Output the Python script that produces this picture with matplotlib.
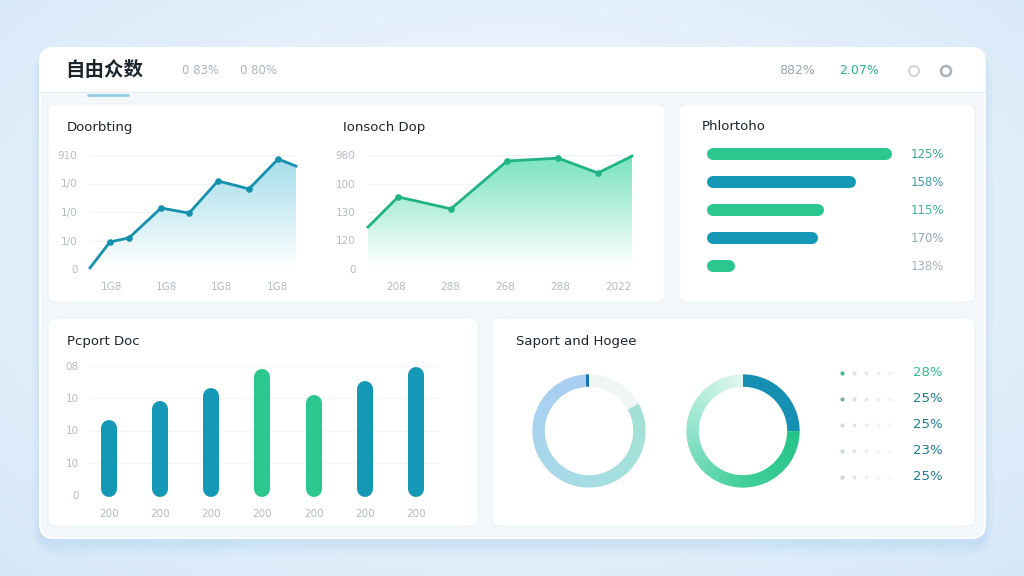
import numpy as np
import matplotlib
matplotlib.use("Agg")
import matplotlib.pyplot as plt
from matplotlib.patches import FancyBboxPatch, Circle
from matplotlib.colors import LinearSegmentedColormap

plt.rcParams['font.family'] = ['DejaVu Sans', 'Noto Sans CJK SC']

W, H = 1024, 576

# ---- data ----
title_main = "自由众数"
header_left = ["0 83%", "0 80%"]
header_right = ["882%", "2.07%"]

line1_title = "Doorbting"
line1_x = [0, 0.97, 1.89, 3.45, 4.81, 6.21, 7.72, 9.13, 10]
line1_y = [4, 95, 109, 214, 196, 309, 281, 386, 361]
line1_yticks = [0, 100, 200, 300, 400]
line1_ylabels = ["0", "1/0", "1/0", "1/0", "910"]
line1_xticks = [1.02, 3.69, 6.36, 9.08]
line1_xlabels = ["1G8", "1G8", "1G8", "1G8"]

line2_title = "Ionsoch Dop"
line2_x = [0, 1.14, 3.14, 5.27, 7.2, 8.71, 10]
line2_y = [147, 253, 211, 379, 389, 337, 396]
line2_yticks = [0, 100, 200, 300, 400]
line2_ylabels = ["0", "120", "130", "100", "980"]
line2_xticks = [1.06, 3.1, 5.19, 7.27, 9.47]
line2_xlabels = ["208", "288", "268", "288", "2022"]

hbar_title = "Phlortoho"
hbar_values = [92, 74, 58, 55, 14]
hbar_labels = ["125%", "158%", "115%", "170%", "138%"]

vbar_title = "Pcport Doc"
vbar_values = [23.3, 29.1, 33.2, 39.1, 31.0, 35.3, 39.7]
vbar_xlabels = ["200"] * 7
vbar_yticks = [0, 10, 20, 30, 40]
vbar_ylabels = ["0", "10", "10", "10", "08"]

donut_title = "Saport and Hogee"
donut1_values = [1, 82, 17]
donut2_values = [25, 75]
legend_labels = ["28%", "25%", "25%", "23%", "25%"]

# ---- colours ----
TEAL = "#1598b5"
GREEN = "#2cc78e"
TICK = "#b4bcc4"
DARK = "#1c242c"

fig = plt.figure(figsize=(W / 100, H / 100), dpi=100)


def px_axes(x0, y0, x1, y1, z=2):
    ax = fig.add_axes([x0 / W, 1 - y1 / H, (x1 - x0) / W, (y1 - y0) / H])
    ax.set_zorder(z)
    return ax


# background
bg = px_axes(0, 0, W, H, z=0)
bg.set_xlim(0, W)
bg.set_ylim(H, 0)
bg.axis("off")
yy, xx = np.mgrid[0:H:4, 0:W:4]
d = np.sqrt(((xx - 512) / 700) ** 2 + ((yy - 250) / 420) ** 2)
bgmap = LinearSegmentedColormap.from_list("bg", ["#f2f7fc", "#e6f1fb", "#d6e8f8"])
bg.imshow(d, cmap=bgmap, extent=[0, W, H, 0], aspect="auto", zorder=0)

# shadow of main panel
for i, a in enumerate([0.05, 0.05, 0.06, 0.07, 0.08]):
    s = 14 - i * 3
    bg.add_patch(FancyBboxPatch((40 - s * 0.6, 54 - s * 0.2), 945 + s * 1.2, 490 + s,
                                boxstyle="round,pad=0,rounding_size=%d" % (14 + s),
                                fc="#9cc6ee", ec="none", alpha=a, zorder=1))
# main panel
bg.add_patch(FancyBboxPatch((40, 48), 945, 490, boxstyle="round,pad=0,rounding_size=14",
                            fc="#f3f7fa", ec="#ffffff", lw=1.5, zorder=2))
# header
bg.add_patch(FancyBboxPatch((40, 48), 945, 44, boxstyle="round,pad=0,rounding_size=14",
                            fc="white", ec="none", zorder=3))
bg.add_patch(plt.Rectangle((40, 75), 945, 17, fc="white", ec="none", zorder=3))
bg.plot([40, 985], [92, 92], color="#e6edf2", lw=1, zorder=4)
bg.plot([88, 128], [95, 95], color="#7cc3e0", lw=2, alpha=0.8, solid_capstyle="round", zorder=4)

# cards
for (x0, y0, x1, y1) in [(48, 104, 665, 302), (679, 104, 975, 302),
                         (48, 318, 478, 526), (492, 318, 975, 526)]:
    bg.add_patch(FancyBboxPatch((x0, y0), x1 - x0, y1 - y0,
                                boxstyle="round,pad=0,rounding_size=8",
                                fc="white", ec="#edf2f6", lw=0.8, zorder=3))

# header text
bg.text(65, 71, title_main, fontsize=14, fontweight="bold", color=DARK,
        family=["Noto Sans CJK SC", "DejaVu Sans"], va="center", ha="left", zorder=5)
bg.text(182, 71, header_left[0], fontsize=8.5, color="#aab4bd", va="center", zorder=5)
bg.text(240, 71, header_left[1], fontsize=8.5, color="#aab4bd", va="center", zorder=5)
bg.text(779, 71, header_right[0], fontsize=9, color="#9aa4ad", va="center", zorder=5)
bg.text(839, 71, header_right[1], fontsize=9, color="#2db586", va="center", zorder=5)
bg.add_patch(Circle((914, 71), 5, fc="white", ec="#c9d0d6", lw=1.3, zorder=5))
bg.add_patch(Circle((946, 71), 5, fc="white", ec="#a9b2ba", lw=1.8, zorder=5))

# card titles
for (x, y, t) in [(67, 127, line1_title), (343, 127, line2_title), (702, 127, hbar_title),
                  (67, 341, vbar_title), (516, 341, donut_title)]:
    bg.text(x, y, t, fontsize=9.5, color=DARK, va="center", ha="left", zorder=5)


def style_axes(ax):
    for s in ax.spines.values():
        s.set_visible(False)
    ax.tick_params(length=0, colors=TICK, labelsize=7.5)
    ax.set_facecolor("none")


def line_chart(box, xs, ys, yticks, ylabels, xticks, xlabels, lc, fc):
    ax = px_axes(*box)
    style_axes(ax)
    ax.set_xlim(0, 10)
    ax.set_ylim(0, 400)
    ax.set_yticks(yticks, ylabels)
    ax.set_xticks(xticks, xlabels)
    ax.tick_params(axis="y", pad=9)
    ax.tick_params(axis="x", pad=9)
    for t in yticks[1:]:
        ax.axhline(t, color="#f0f3f6", lw=0.8, zorder=0)
    poly = ax.fill_between(xs, ys, 0, color="none", lw=0)
    grad = np.linspace(1, 0, 100).reshape(-1, 1)
    cmap = LinearSegmentedColormap.from_list("f", ["#ffffff", fc])
    im = ax.imshow(grad, cmap=cmap, extent=[0, 10, 0, 400], aspect="auto", zorder=1,
                   vmin=0, vmax=1)
    im.set_clip_path(poly.get_paths()[0], transform=ax.transData)
    ax.plot(xs, ys, color=lc, lw=2, zorder=3, clip_on=False, solid_joinstyle="round")
    ax.scatter(xs[1:-1], ys[1:-1], s=14, color=lc, zorder=4, clip_on=False)
    return ax


line_chart((90, 155, 296, 269), line1_x, line1_y, line1_yticks, line1_ylabels,
           line1_xticks, line1_xlabels, "#1590ad", "#a2dcea")
line_chart((368, 155, 632, 269), line2_x, line2_y, line2_yticks, line2_ylabels,
           line2_xticks, line2_xlabels, "#1fb386", "#79e3bf")

# horizontal bars
axh = px_axes(707, 140, 908, 280)
axh.axis("off")
axh.set_xlim(0, 100)
axh.set_ylim(len(hbar_values) - 0.5, -0.5)
hb_colors = [GREEN, TEAL, GREEN, TEAL, GREEN]
lab_colors = ["#3aa98a", "#3f9aa6", "#3db58f", "#8fa9b0", "#a9b4bb"]
r = 6 / 2.01
for i, v in enumerate(hbar_values):
    axh.plot([r, v - r], [i, i], color=hb_colors[i], lw=12 * 0.72,
             solid_capstyle="round", clip_on=False)
    axh.text(1.18, i, hbar_labels[i], transform=axh.get_yaxis_transform(),
             ha="right", va="center", fontsize=8.5, color=lab_colors[i])

# vertical bars
axv = px_axes(90, 366, 440, 495)
style_axes(axv)
axv.set_ylim(0, 40)
axv.set_xlim(-0.37, 6.47)
axv.set_yticks(vbar_yticks, vbar_ylabels)
axv.set_xticks(range(len(vbar_values)), vbar_xlabels)
axv.tick_params(axis="y", pad=8)
axv.tick_params(axis="x", pad=10)
for t in vbar_yticks[1:]:
    axv.axhline(t, color="#f2f4f7", lw=0.8, zorder=0)
vb_colors = [TEAL, TEAL, TEAL, GREEN, GREEN, TEAL, TEAL]
rv = 8 / 3.225
for i, v in enumerate(vbar_values):
    axv.plot([i, i], [rv - 0.6, v - rv], color=vb_colors[i], lw=16 * 0.72,
             solid_capstyle="round", clip_on=False, zorder=2)


# donuts
def grad_ring(ax, wedge, colors, theta0, theta1, ccw):
    n = 300
    g = np.linspace(-1.2, 1.2, n)
    X, Y = np.meshgrid(g, g)
    ang = np.degrees(np.arctan2(Y, X))
    if ccw:
        t = ((ang - theta0) % 360) / ((theta1 - theta0) % 360 or 360)
    else:
        t = ((theta0 - ang) % 360) / ((theta0 - theta1) % 360 or 360)
    t = np.clip(t, 0, 1)
    cmap = LinearSegmentedColormap.from_list("r", colors)
    im = ax.imshow(t, cmap=cmap, extent=[-1.2, 1.2, -1.2, 1.2], origin="lower",
                   vmin=0, vmax=1, zorder=3)
    im.set_clip_path(wedge)


ax1 = px_axes(531 - 10, 373 - 10, 647 + 10, 489 + 10)
wedges, _ = ax1.pie(donut1_values, startangle=90, counterclock=True,
                    colors=["#1672b0", "#a9cff1", "#f0f5f5"],
                    wedgeprops=dict(width=0.22, linewidth=0))
ax1.set_xlim(-1.2, 1.2)
ax1.set_ylim(-1.2, 1.2)
ax1.set_aspect("equal")
ax1.axis("off")
wedges[1].set_facecolor("none")
grad_ring(ax1, wedges[1], ["#aacdf1", "#a9d3f0", "#a8dbea", "#a6e1dc", "#a2e2d4"],
          93.6, 30, True)

ax2 = px_axes(685 - 10, 373 - 10, 801 + 10, 489 + 10)
wedges2, _ = ax2.pie(donut2_values, startangle=90, counterclock=False,
                     colors=["#1590b3", GREEN],
                     wedgeprops=dict(width=0.22, linewidth=0))
ax2.set_xlim(-1.2, 1.2)
ax2.set_ylim(-1.2, 1.2)
ax2.set_aspect("equal")
ax2.axis("off")
wedges2[1].set_facecolor("none")
grad_ring(ax2, wedges2[1], ["#24c489", "#42cf9b", "#90e4ca", "#e2f7f1"], 360, 90, False)

# legend of donuts
axl = px_axes(835, 360, 960, 490)
axl.axis("off")
axl.set_xlim(0, 125)
axl.set_ylim(len(legend_labels) - 0.5, -0.5)
dot_cols = [["#3cbf93", "#d9e6e2", "#e6eeec", "#eef3f2", "#f2f5f5"],
            ["#6eb1a4", "#d6e3e1", "#e3ebea", "#edf2f1", "#f2f5f5"],
            ["#cfd9db", "#e0e7e8", "#eaeff0", "#f0f3f4", "#f4f6f7"],
            ["#c9d9d6", "#dde6e5", "#e9efee", "#f2f5f5", "#f5f7f7"],
            ["#c7d3d5", "#dee6e6", "#edf1f1", "#f4f6f6", "#f6f8f8"]]
for i, lab in enumerate(legend_labels):
    for j in range(5):
        axl.scatter(7 + j * 12, i, s=9, color=dot_cols[i][j], lw=0)
    axl.text(78, i, lab, va="center", ha="left", fontsize=9.5,
             color="#2fb98a" if i == 0 else "#1e7d90")

fig.savefig("out.png", dpi=100)
